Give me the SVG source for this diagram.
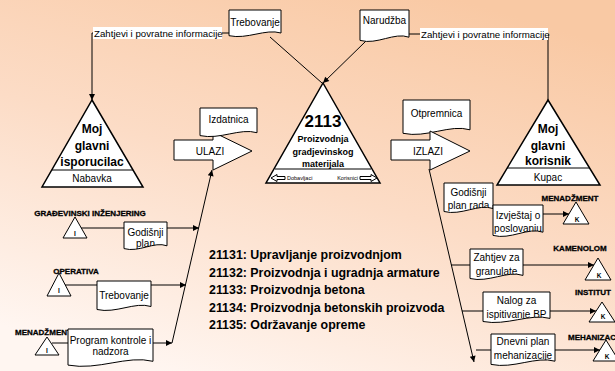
<svg xmlns="http://www.w3.org/2000/svg" width="615" height="371" viewBox="0 0 615 371">
<defs>
<linearGradient id="bg" x1="0.75" y1="0" x2="0.25" y2="1">
<stop offset="0" stop-color="#f9c9a4"/>
<stop offset="0.5" stop-color="#fcdcc6"/>
<stop offset="1" stop-color="#fff6f1"/>
</linearGradient>
<marker id="ah" viewBox="0 0 10 10" refX="10" refY="5" markerWidth="10" markerHeight="6" markerUnits="userSpaceOnUse" orient="auto">
<path d="M0,0 L10,5 L0,10 Z" fill="#000"/>
</marker>
<clipPath id="c1"><path d="M124,222 H167 V245.8 C154.1,241 139.1,252.8 124,248.6 Z"/></clipPath>
<clipPath id="c2"><path d="M444,183 H493 V208.5 C478.3,203.4 461.2,216 444,211.5 Z"/></clipPath>
<clipPath id="c3"><path d="M493,205 H543 V232.2 C528,226.8 510.5,240.2 493,235.4 Z"/></clipPath>
<clipPath id="c4"><path d="M470,249 H523 V275.4 C507.1,270.1 488.6,283.1 470,278.5 Z"/></clipPath>
<clipPath id="c5"><path d="M483,292 H550 V318.4 C529.9,313.1 506.5,326.1 483,321.5 Z"/></clipPath>
<clipPath id="c6"><path d="M491,334 H555 V361.2 C535.8,355.8 513.4,369.2 491,364.4 Z"/></clipPath>
</defs>
<style>
.doc{fill:#fff;stroke:#000;stroke-width:1}
.shp{fill:#fff;stroke:#000;stroke-width:1.5}
.thin{fill:#fff;stroke:#000;stroke-width:1}
.ln{fill:none;stroke:#000;stroke-width:1}
.t{font-family:"Liberation Sans",Arial,sans-serif;font-size:10px;fill:#000}
.m{text-anchor:middle}
.b{font-family:"Liberation Sans",Arial,sans-serif;font-weight:bold;fill:#000}
.lbl{font-family:"Liberation Sans",Arial,sans-serif;font-weight:bold;font-size:8px;fill:#000;stroke:#000;stroke-width:0.3}
</style>
<rect x="0" y="0" width="615" height="371" fill="url(#bg)"/>

<g id="connectors">
<path class="ln" d="M229,33 H92 V100" marker-end="url(#ah)"/>
<path class="ln" d="M409,34 H548 V100"/>
<path class="ln" d="M270,37 L322,83"/>
<path class="ln" d="M366,41 L323,83" marker-end="url(#ah)"/>
<path class="ln" d="M172,343 L212,170" marker-end="url(#ah)"/>
<path class="ln" d="M81,228 H124"/>
<path class="ln" d="M167,228 H199" marker-end="url(#ah)"/>
<path class="ln" d="M65,285 H97"/>
<path class="ln" d="M151,285 H186" marker-end="url(#ah)"/>
<path class="ln" d="M52,343 H68"/>
<path class="ln" d="M153,343 H172" marker-end="url(#ah)"/>
<path class="ln" d="M429,169 L474,362" marker-end="url(#ah)"/>
<path class="ln" d="M543,214 H569" marker-end="url(#ah)"/>
<path class="ln" d="M451,265 H470"/>
<path class="ln" d="M523,265 H594" marker-end="url(#ah)"/>
<path class="ln" d="M462,311 H483"/>
<path class="ln" d="M550,311 H596" marker-end="url(#ah)"/>
<path class="ln" d="M476,350 H491"/>
<path class="ln" d="M555,350 H600" marker-end="url(#ah)"/>
<rect x="93" y="27" width="129" height="12" fill="#fff"/>
<text class="t" x="94" y="36.5" style="font-size:9.7px">Zahtjevi i povratne informacije</text>
<rect x="420" y="28" width="128" height="12" fill="#fff"/>
<text class="t" x="421" y="37.5" style="font-size:9.7px">Zahtjevi i povratne informacije</text>
</g>

<g id="dobavljac">
<path class="shp" d="M92,100 L143,187 L42,187 Z"/>
<line class="ln" x1="52" y1="170" x2="133" y2="170" stroke-width="1.5"/>
<text class="b m" x="92" y="133" font-size="12">Moj</text>
<text class="b m" x="92" y="149.5" font-size="12">glavni</text>
<text class="b m" x="92" y="166" font-size="12">isporucilac</text>
<text class="t m" x="92" y="182">Nabavka</text>
</g>

<g id="kupac">
<path class="shp" d="M548,100 L600,185 L497,185 Z"/>
<line class="ln" x1="507" y1="168" x2="590" y2="168" stroke-width="1.5"/>
<text class="b m" x="548" y="132.5" font-size="12">Moj</text>
<text class="b m" x="548" y="149.5" font-size="12">glavni</text>
<text class="b m" x="548" y="164.5" font-size="12">korisnik</text>
<text class="t m" x="548" y="181">Kupac</text>
</g>

<g id="proizvodnja">
<path class="shp" d="M323,83 L380,183 L266,183 Z"/>
<line class="ln" x1="275" y1="169" x2="371" y2="169" stroke-width="1.5"/>
<text class="b m" x="323" y="127" font-size="17">2113</text>
<text class="b m" x="323" y="141.5" font-size="9">Proizvodnja</text>
<text class="b m" x="323" y="154.5" font-size="9">gradjevinskog</text>
<text class="b m" x="323" y="166.5" font-size="9">materijala</text>
<polygon class="thin" stroke-width="0.7" points="271,178 277,174.5 277,176.5 285,176.5 285,179.5 277,179.5 277,181.5"/>
<polygon class="thin" stroke-width="0.7" points="377,178 371,174.5 371,176.5 360,176.5 360,179.5 371,179.5 371,181.5"/>
<text class="t" x="287" y="180" style="font-size:5.5px">Dobavljaci</text>
<text class="t" x="358" y="180" style="font-size:5.5px" text-anchor="end">Korisnici</text>
</g>

<g id="trebovanje-top">
<path class="doc" d="M229,10 H281 V33 C265.4,28.4 247.2,39.7 229,35.7 Z"/>
<text class="t m" x="255" y="25.5">Trebovanje</text>
</g>

<g id="narudzba">
<path class="doc" d="M360,10 H409 V37.2 C394.3,31.8 377.2,45.2 360,40.4 Z"/>
<text class="t m" x="384.5" y="23.5">Narudžba</text>
</g>

<g id="ulazi">
<polygon class="thin" points="174,140 213,140 213,132 252,151 213,170 213,160 174,160"/>
<text class="t m" x="210" y="154.5">ULAZI</text>
</g>

<g id="izdatnica">
<path class="doc" d="M200,108 H257 V132.7 C239.9,127.7 220,140 200,135.6 Z"/>
<text class="t m" x="228.5" y="122.5">Izdatnica</text>
</g>

<g id="otpremnica">
<path class="doc" d="M403,100 H470 V129.8 C449.9,123.8 426.5,138.5 403,133.3 Z"/>
<text class="t m" x="436.5" y="117">Otpremnica</text>
</g>

<g id="izlazi">
<polygon class="thin" points="391,140 430,140 430,131 470,151 430,170 430,160 391,160"/>
<text class="t m" x="428" y="154.5">IZLAZI</text>
</g>

<g id="gradjevinski">
<text class="lbl m" x="90" y="216">GRAĐEVINSKI INŽENJERING</text>
<path class="thin" d="M75,217 L87,238 L63,238 Z"/>
<text class="b m" x="75" y="236" font-size="6.5">I</text>
</g>
<g id="godisnji-plan">
<path class="doc" d="M124,222 H167 V245.8 C154.1,241 139.1,252.8 124,248.6 Z"/>
<g clip-path="url(#c1)">
<text class="t m" x="145.5" y="235.5">Godišnji</text>
<text class="t m" x="145.5" y="247">plan</text>
</g>
</g>

<g id="operativa">
<text class="lbl m" x="76" y="274">OPERATIVA</text>
<path class="thin" d="M59,273 L71,296 L47,296 Z"/>
<text class="b m" x="59" y="293" font-size="6.5">I</text>
</g>
<g id="trebovanje">
<path class="doc" d="M97,281 H151 V306.5 C134.8,301.4 115.9,313.9 97,309.5 Z"/>
<text class="t m" x="124" y="298.5">Trebovanje</text>
</g>

<g id="menadzment-i">
<text class="lbl" x="15" y="335">MENADŽMENT</text>
<path class="thin" d="M47,337 L59,355 L35,355 Z"/>
<text class="b m" x="47" y="353" font-size="6.5">I</text>
</g>
<g id="program-kontrole">
<path class="doc" d="M68,329 H153 V361.3 C127.5,354.8 97.8,370.8 68,365.1 Z"/>
<text class="t m" x="110.5" y="343.5">Program kontrole i</text>
<text class="t m" x="110.5" y="355">nadzora</text>
</g>

<g id="godisnji-plan-rada">
<path class="doc" d="M444,183 H493 V208.5 C478.3,203.4 461.2,216 444,211.5 Z"/>
<g clip-path="url(#c2)">
<text class="t m" x="468.5" y="195.5">Godišnji</text>
<text class="t m" x="468.5" y="209">plan rada</text>
</g>
</g>

<g id="izvjestaj">
<path class="doc" d="M493,205 H543 V232.2 C528,226.8 510.5,240.2 493,235.4 Z"/>
<g clip-path="url(#c3)">
<text class="t m" x="518" y="218.5">Izvještaj o</text>
<text class="t m" x="518" y="232">poslovanju</text>
</g>
</g>
<g id="menadzment-k">
<text class="lbl m" x="570" y="200.5">MENADŽMENT</text>
<path class="thin" d="M576,202 L589,224 L563,224 Z"/>
<text class="b m" x="577" y="221.5" font-size="6.5">K</text>
</g>

<g id="zahtjev">
<path class="doc" d="M470,249 H523 V275.4 C507.1,270.1 488.6,283.1 470,278.5 Z"/>
<g clip-path="url(#c4)">
<text class="t m" x="496.5" y="261">Zahtjev za</text>
<text class="t m" x="496.5" y="275">granulate</text>
</g>
</g>
<g id="kamenolom">
<text class="lbl m" x="580" y="250.5">KAMENOLOM</text>
<path class="thin" d="M598,258 L611,280 L585,280 Z"/>
<text class="b m" x="599" y="277.5" font-size="6.5">K</text>
</g>

<g id="nalog">
<path class="doc" d="M483,292 H550 V318.4 C529.9,313.1 506.5,326.1 483,321.5 Z"/>
<g clip-path="url(#c5)">
<text class="t m" x="516.5" y="303.5">Nalog za</text>
<text class="t m" x="516.5" y="318">ispitivanje BP</text>
</g>
</g>
<g id="institut">
<text class="lbl m" x="593" y="294.5">INSTITUT</text>
<path class="thin" d="M602,302 L615,322 L589,322 Z"/>
<text class="b m" x="603" y="319" font-size="6.5">K</text>
</g>

<g id="dnevni-plan">
<path class="doc" d="M491,334 H555 V361.2 C535.8,355.8 513.4,369.2 491,364.4 Z"/>
<g clip-path="url(#c6)">
<text class="t m" x="523" y="345">Dnevni plan</text>
<text class="t m" x="523" y="359">mehanizacije</text>
</g>
</g>
<g id="mehanizacija">
<text class="lbl" x="568" y="339.5">MEHANIZACIJA</text>
<path class="thin" d="M606,340 L619,361 L593,361 Z"/>
<text class="b m" x="607" y="358.5" font-size="6.5">K</text>
</g>

<g id="podprocesi">
<text class="b" x="209" y="259" font-size="12.4">21131: Upravljanje proizvodnjom</text>
<text class="b" x="209" y="276.5" font-size="12.4">21132: Proizvodnja i ugradnja armature</text>
<text class="b" x="209" y="294" font-size="12.4">21133: Proizvodnja betona</text>
<text class="b" x="209" y="311.5" font-size="12.4">21134: Proizvodnja betonskih proizvoda</text>
<text class="b" x="209" y="329" font-size="12.4">21135: Održavanje opreme</text>
</g>
</svg>
